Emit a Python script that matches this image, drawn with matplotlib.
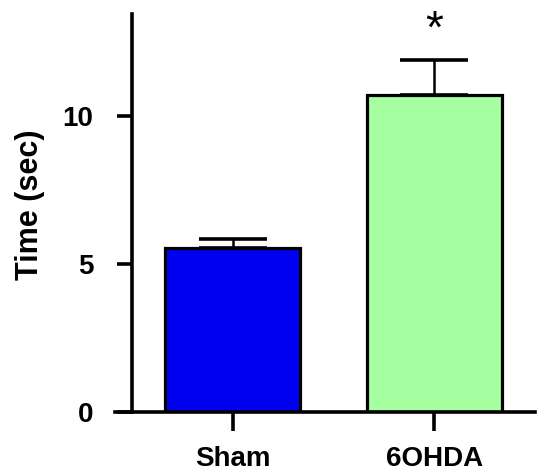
import matplotlib.pyplot as plt
import numpy as np

plt.rcParams['font.family'] = ['Liberation Sans', 'DejaVu Sans']
plt.rcParams['font.weight'] = 'bold'

# Data
groups = ['Sham', '6OHDA']
means = [5.54, 10.70]
sem = [0.30, 1.21]
colors = ['#0000F0', '#A6FFA0']

fig = plt.figure(figsize=(5.38, 4.76), dpi=100)
ax = fig.add_axes([0.2138, 0.1345, 0.7807, 0.836])

x = np.arange(len(groups))
ax.bar(x, means, width=0.67, color=colors, edgecolor='black', linewidth=2.3, zorder=2)
ax.errorbar(x, means, yerr=[np.zeros(len(sem)), sem], fmt='none', ecolor='black',
            elinewidth=1.8, capsize=24.5, capthick=2.6, zorder=1)

# significance marker
ax.text(1, 12.9, '*', ha='center', va='center', fontsize=33, fontweight='normal', clip_on=False)

ax.set_xlim(-0.583, 1.501)
ax.set_ylim(0, 13.45)
ax.set_yticks([0, 5, 10])
ax.set_xticks(x)
ax.set_xticklabels(groups)

for s in ['top', 'right']:
    ax.spines[s].set_visible(False)
ax.spines['left'].set_position(('axes', 0.0405))
ax.spines['left'].set_linewidth(2.6)
ax.spines['bottom'].set_linewidth(2.6)

ax.tick_params(axis='y', length=11, width=2.6, pad=17, labelsize=20)
ax.tick_params(axis='x', length=13.5, width=2.6, pad=11, labelsize=20)

fig.text(30 / 538, 1 - 205 / 476, 'Time (sec)', rotation=90, ha='center', va='center',
         fontsize=22, fontweight='bold')

plt.savefig('out.png', dpi=100)
plt.close()
